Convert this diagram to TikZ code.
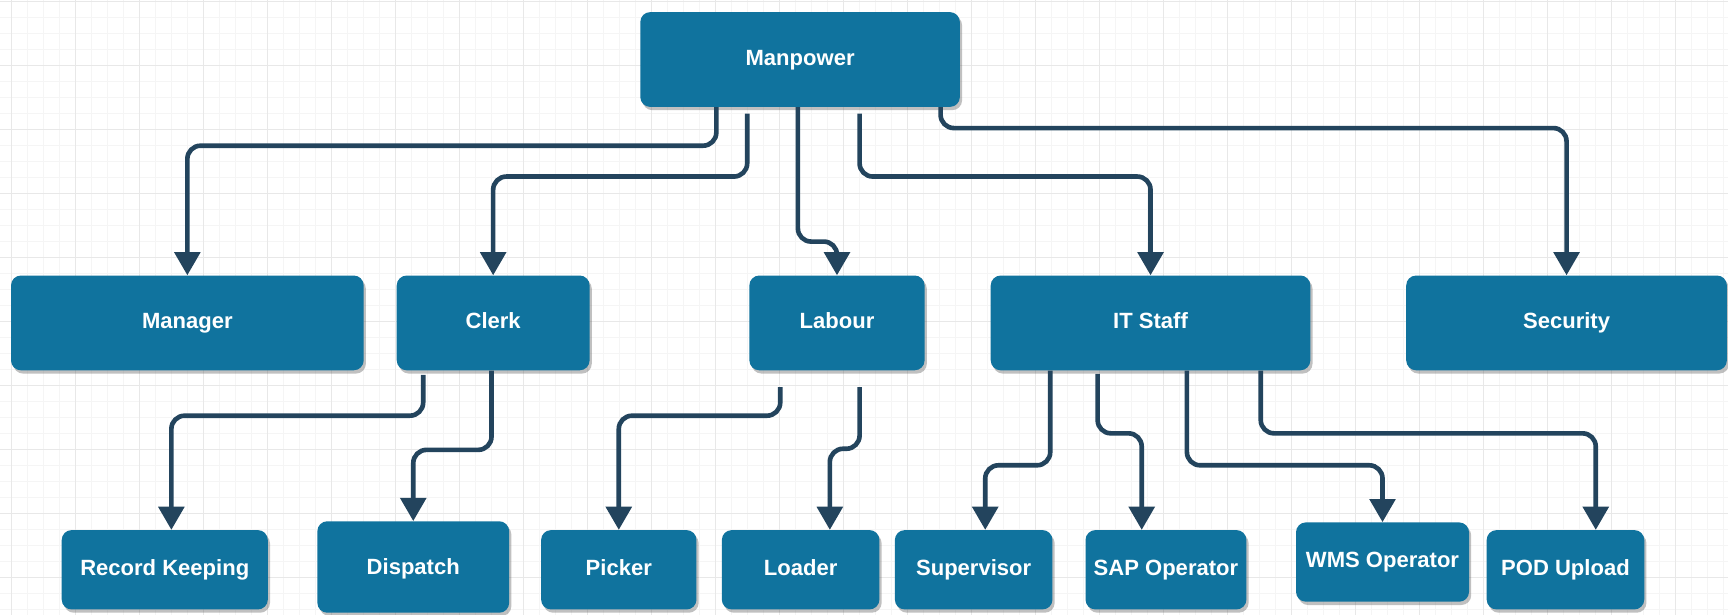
\documentclass[tikz,border=0pt]{standalone}
\usepackage{fontspec}
\setmainfont{Liberation Sans}
\usetikzlibrary{arrows.meta,shadows}
\definecolor{boxblue}{HTML}{10739E}
\definecolor{linenavy}{HTML}{23445D}
\tikzset{
  box/.style={rectangle, rounded corners=9pt, fill=boxblue, draw=none, text=white,
    font=\bfseries\fontsize{20}{24}\selectfont, inner sep=0pt, anchor=center,
    text height=14pt, text depth=4pt,
    drop shadow={shadow xshift=2pt, shadow yshift=-3pt, opacity=0.35, fill=black!70}},
  conn/.style={draw=linenavy, line width=4.2pt, rounded corners=12pt,
    -{Triangle[width=23pt,length=21pt]}},
  gridmajor/.style={draw=black!9, line width=0.9pt},
  gridminor/.style={draw=black!4, line width=0.6pt}
}
\begin{document}
\begin{tikzpicture}[x=1pt,y=-1pt]
\useasboundingbox (0,0) rectangle (1568,558);
\fill[white] (0,0) rectangle (1568,558);
% grid
\foreach \i in {0,...,108} {
  \draw[gridminor] ({10.4+14.52*(\i-1)},0) -- ++(0,558);
}
\foreach \i in {0,...,40} {
  \draw[gridminor] (0,{1+14.52*\i}) -- ++(1568,0);
}
\foreach \i in {0,...,27} {
  \draw[gridmajor] ({10.4+58.07*\i},0) -- ++(0,558);
}
\foreach \i in {0,...,10} {
  \draw[gridmajor] (0,{1+58.07*\i}) -- ++(1568,0);
}
% nodes
\node[box, minimum width=290pt, minimum height=86pt] (mp) at (726,54) {Manpower};
\node[box, minimum width=320pt, minimum height=86pt] (mgr) at (170,293) {Manager};
\node[box, minimum width=175pt, minimum height=86pt] (clerk) at (447.5,293) {Clerk};
\node[box, minimum width=159pt, minimum height=86pt] (labour) at (759.5,293) {Labour};
\node[box, minimum width=290pt, minimum height=86pt] (it) at (1044,293) {IT Staff};
\node[box, minimum width=291pt, minimum height=86pt] (sec) at (1421.5,293) {Security};
\node[box, minimum width=187pt, minimum height=72pt] (rk) at (149.5,517) {Record Keeping};
\node[box, minimum width=174pt, minimum height=83pt, text depth=0pt] (disp) at (375,514.5) {Dispatch};
\node[box, minimum width=141pt, minimum height=72pt] (picker) at (561.5,517) {Picker};
\node[box, minimum width=143pt, minimum height=72pt] (loader) at (726.5,517) {Loader};
\node[box, minimum width=143pt, minimum height=72pt] (sup) at (883.5,517) {Supervisor};
\node[box, minimum width=146pt, minimum height=72pt] (sap) at (1058,517) {SAP Operator};
\node[box, minimum width=157pt, minimum height=72pt] (wms) at (1254.5,510) {WMS Operator};
\node[box, minimum width=143pt, minimum height=72pt] (pod) at (1420.5,517) {POD Upload};
% connectors level 1
\draw[conn] ([xshift=-76pt]mp.south) -- ++(0,35) -| (mgr.north);
\draw[conn] ([xshift=-48pt,yshift=-6pt]mp.south) -- ++(0,57) -| (clerk.north);
\draw[conn] ([xshift=-2pt]mp.south) -- ++(0,122) -| (labour.north);
\draw[conn] ([xshift=54pt,yshift=-6pt]mp.south) -- ++(0,57) -| (it.north);
\draw[conn] ([xshift=127.5pt]mp.south) -- ++(0,19) -| (sec.north);
% connectors level 2
\draw[conn] ([xshift=-63.5pt,yshift=-4pt]clerk.south) -- ++(0,37) -| ([xshift=6pt]rk.north);
\draw[conn] ([xshift=-1.5pt]clerk.south) -- ++(0,72) -| (disp.north);
\draw[conn] ([xshift=-51.5pt,yshift=-15pt]labour.south) -- ++(0,26) -| (picker.north);
\draw[conn] ([xshift=20.5pt,yshift=-15pt]labour.south) -- ++(0,56) -| ([xshift=26.5pt]loader.north);
\draw[conn] ([xshift=-91pt]it.south) -- ++(0,86) -| ([xshift=10.5pt]sup.north);
\draw[conn] ([xshift=-48pt,yshift=-3pt]it.south) -- ++(0,54) -| ([xshift=-22pt]sap.north);
\draw[conn] ([xshift=33pt]it.south) -- ++(0,86) -| (wms.north);
\draw[conn] ([xshift=100pt]it.south) -- ++(0,57) -| ([xshift=27.5pt]pod.north);
\end{tikzpicture}
\end{document}
